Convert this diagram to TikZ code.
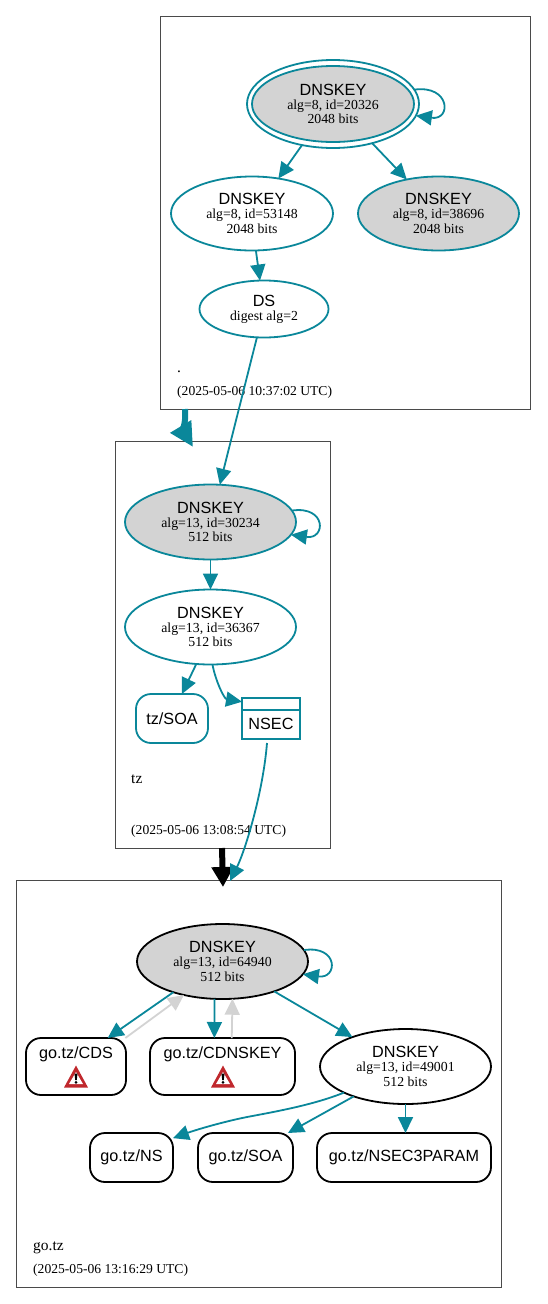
\documentclass[tikz,border=0pt]{standalone}
\usepackage{fontspec}
\setmainfont{Liberation Serif}
\setsansfont{Liberation Sans}
\usetikzlibrary{arrows.meta}
\usetikzlibrary{positioning, shapes.geometric}
\definecolor{dnsteal}{HTML}{0A879A}
\definecolor{keygray}{HTML}{D3D3D3}
\definecolor{zoneline}{HTML}{4A4A4A}
\definecolor{warnred}{HTML}{C0282D}
\newcommand{\recfont}{\fontsize{16.2}{18}\selectfont\sffamily}
\newcommand{\keytext}[2]{{\recfont DNSKEY}\\[2pt]{\fontsize{13.8}{14}\selectfont #1}\\[1pt]{\fontsize{13.8}{14}\selectfont #2}}

\begin{document}
\begin{tikzpicture}[
    x=1pt, y=-1pt,
    zone/.style={draw=zoneline, line width=0.9pt, inner sep=0, outer sep=0},
    key/.style={ellipse, draw=dnsteal, line width=1.8pt, inner sep=0, outer sep=0,
        align=center, text=black, minimum width=171pt, minimum height=75pt},
    signed/.style={key, fill=keygray},
    black key/.style={draw=black},
    record/.style={draw=dnsteal, line width=1.8pt, rounded corners=15pt, inner sep=0, outer sep=0,
        font=\recfont},
    black record/.style={record, draw=black},
    keyedge/.style={-{Triangle[length=16pt,width=15pt]}, draw=dnsteal, line width=1.8pt},
    grayedge/.style={-{Triangle[length=16pt,width=15pt]}, draw=keygray, line width=1.8pt},
    zonename/.style={anchor=base west, inner sep=0, font=\fontsize{15.5}{16}\selectfont},
    zonetime/.style={anchor=base west, inner sep=0, font=\fontsize{13.6}{14}\selectfont},
    warnicon/.pic={
        \fill[warnred] (0,-11.5) -- (12,10.5) -- (-12,10.5) -- cycle;
        \fill[white] (0,-5) -- (7,7) -- (-7,7) -- cycle;
        \fill[black] (-1.5,-3.5) -- (1.5,-3.5) -- (0.8,3) -- (-0.8,3) -- cycle;
        \fill[black] (0,5.3) circle (1.5);
    }
]
    \useasboundingbox (0,0) rectangle (547,1304);

    % zones
    \node[zone, minimum width=370pt, minimum height=393pt] (zoneroot) at (345,212.5) {};
    \node[zone, minimum width=215pt, minimum height=407pt] (zonetz) at (222.5,644.5) {};
    \node[zone, minimum width=485pt, minimum height=407pt] (zonego) at (258.5,1083.5) {};

    \node[zonename] (rootname) at (177,372) {.};
    \node[zonetime] (roottime) at (177,395) {(2025-05-06 10:37:02 UTC)};
    \node[zonename] (tzname) at (131,783) {tz};
    \node[zonetime] (tztime) at (131,834) {(2025-05-06 13:08:54 UTC)};
    \node[zonename] (goname) at (33,1250) {go.tz};
    \node[zonetime] (gotime) at (33,1273) {(2025-05-06 13:16:29 UTC)};

    % root zone
    \node[key, minimum width=172pt, minimum height=88pt] (k20326o) at (333,104) {};
    \node[signed, minimum width=162pt, minimum height=76pt] (k20326) at (333,104) {\keytext{alg=8, id=20326}{2048 bits}};
    \node[key, minimum width=162pt, minimum height=74pt] (k53148) at (252,213.5) {\keytext{alg=8, id=53148}{2048 bits}};
    \node[signed, minimum width=161pt, minimum height=74pt] (k38696) at (438.5,213.5) {\keytext{alg=8, id=38696}{2048 bits}};
    \node[key, minimum width=129pt, minimum height=57pt, font=\fontsize{13.8}{14}\selectfont] (ds) at (264,309) {{\recfont DS}\\digest alg=2};

    % tz zone
    \node[signed] (k30234) at (210.5,522) {\keytext{alg=13, id=30234}{512 bits}};
    \node[key] (k36367) at (210.5,627) {\keytext{alg=13, id=36367}{512 bits}};
    \node[record, minimum width=72pt, minimum height=49pt] (tzsoa) at (172,718.5) {tz/SOA};
    \node[draw=dnsteal, line width=2.8pt, inner sep=0, outer sep=0, minimum width=58pt, minimum height=41pt] (nsec) at (271,718.5) {};
    \node[font=\recfont, inner sep=0] (nsectext) at (271,723.5) {NSEC};
    \coordinate (nsecrule) at (0,710);
    \draw[dnsteal, line width=2.8pt] (nsec.west |- nsecrule) -- (nsec.east |- nsecrule);

    % go.tz zone
    \node[signed, black key] (k64940) at (222.5,961.5) {\keytext{alg=13, id=64940}{512 bits}};
    \node[key, black key] (k49001) at (405.5,1066.5) {\keytext{alg=13, id=49001}{512 bits}};
    \node[black record, minimum width=100pt, minimum height=57pt] (cds) at (76,1066.5) {};
    \node[font=\recfont, inner sep=0] (cdstext) at (76,1054) {go.tz/CDS};
    \pic at (76,1077) {warnicon};
    \node[black record, minimum width=145pt, minimum height=57pt] (cdnskey) at (222.5,1066.5) {};
    \node[font=\recfont, inner sep=0] (cdnskeytext) at (222.5,1054) {go.tz/CDNSKEY};
    \pic at (223,1077) {warnicon};
    \node[black record, minimum width=83pt, minimum height=49pt] (gons) at (131.5,1157.5) {go.tz/NS};
    \node[black record, minimum width=95pt, minimum height=49pt] (gosoa) at (245.5,1157.5) {go.tz/SOA};
    \node[black record, minimum width=174pt, minimum height=49pt] (gonsec3) at (404,1157.5) {go.tz/NSEC3PARAM};

    % delegations
    \coordinate (rootdown) at (185,409);
    \coordinate (tzin) at (193,447);
    \coordinate (tzdown) at (222,848);
    \coordinate (goin) at (223,887);
    \coordinate (nsecdown) at (267,743);
    \coordinate (nsecin) at (230,881);
    \draw[-{Triangle[length=24pt,width=23pt]}, dnsteal, line width=6pt] (rootdown) .. controls +(1,8) and +(-9,-15) .. (tzin);
    \draw[-{Triangle[length=20pt,width=21pt]}, black, line width=6pt] (tzdown) -- (goin);

    % edges
    \draw[keyedge] (k20326o.10) .. controls +(36,-5) and +(36,5) .. (k20326o.-8);
    \draw[keyedge] (k20326o.-127) -- (k53148.53);
    \draw[keyedge] (k20326o.-45) -- (k38696.133);
    \draw[keyedge] (k53148.-84) -- (ds.98);
    \draw[keyedge] (ds.-104) -- (k30234.76);
    \draw[keyedge] (k30234.8) .. controls +(35,-5) and +(35,5) .. (k30234.-9);
    \draw[keyedge] (k30234.south) -- (k36367.north);
    \draw[keyedge] (k36367.-111.5) -- (tzsoa.68);
    \draw[keyedge] (k36367.-87) .. controls +(3,16) and +(-18,-3) .. (nsec.150);
    \draw[keyedge] (nsecdown) .. controls +(-4,50) and +(15,-30) .. (nsecin);
    \draw[keyedge] (k64940.8) .. controls +(35,-5) and +(35,5) .. (k64940.-9);
    \draw[keyedge] (k64940.-148) -- (cds.42.6);
    \draw[grayedge] (cds.30.5) -- (k64940.-139);
    \draw[keyedge] (k64940.-102) -- (cdnskey.106.6);
    \draw[grayedge] (cdnskey.72.5) -- (k64940.-75);
    \draw[keyedge] (k64940.-30) -- (k49001.151);
    \draw[keyedge] (k49001.-157) .. controls +(-30,12) and +(32,-6) .. (247,1117) .. controls +(-25,5) and +(22,-8) .. (gons.25.7);
    \draw[keyedge] (k49001.-150) -- (gosoa.30.5);
    \draw[keyedge] (k49001.south) -- (gonsec3.north -| k49001.south);
\end{tikzpicture}
\end{document}
